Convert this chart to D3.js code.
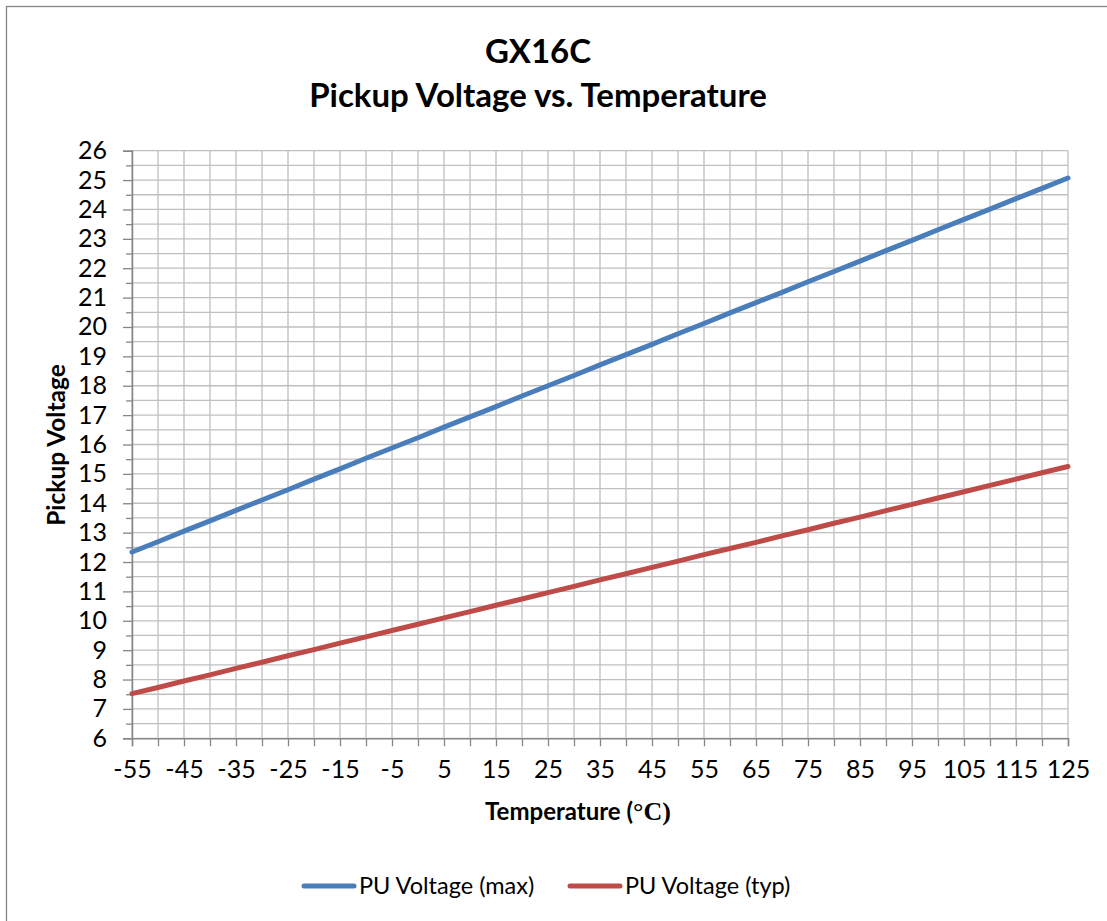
<!DOCTYPE html>
<html>
<head>
<meta charset="utf-8">
<script src="https://cdn.jsdelivr.net/npm/d3@7"></script>
<style>
  body { margin: 0; background: #fff; }
  svg { display: block; }
</style>
</head>
<body>
<div id="chart"></div>
<script>
// Chart size
const width = 1107;
const height = 921;

// Temperature categories (deg C)
const temps = [-55, -50, -45, -40, -35, -30, -25, -20, -15, -10, -5, 0, 5, 10, 15, 20, 25, 30,
  35, 40, 45, 50, 55, 60, 65, 70, 75, 80, 85, 90, 95, 100, 105, 110, 115, 120, 125];

// PU Voltage (max)
const puMax = [12.34, 12.69, 13.05, 13.40, 13.76, 14.11, 14.46, 14.82, 15.17, 15.53, 15.88, 16.23,
  16.59, 16.94, 17.29, 17.65, 18.00, 18.35, 18.71, 19.06, 19.41, 19.77, 20.12, 20.48, 20.83,
  21.18, 21.54, 21.89, 22.24, 22.60, 22.95, 23.31, 23.66, 24.01, 24.37, 24.72, 25.07];

// PU Voltage (typ)
const puTyp = [7.52, 7.73, 7.95, 8.16, 8.38, 8.59, 8.81, 9.02, 9.24, 9.45, 9.67, 9.88, 10.10,
  10.31, 10.53, 10.74, 10.96, 11.17, 11.39, 11.60, 11.82, 12.03, 12.25, 12.46, 12.67, 12.89,
  13.10, 13.32, 13.53, 13.75, 13.96, 14.18, 14.39, 14.61, 14.82, 15.04, 15.25];

// Axis tick labels
const xLabels = [-55, -45, -35, -25, -15, -5, 5, 15, 25, 35, 45, 55, 65, 75, 85, 95, 105, 115, 125];
const yLabels = [6, 7, 8, 9, 10, 11, 12, 13, 14, 15, 16, 17, 18, 19, 20, 21, 22, 23, 24, 25, 26];
const yHalves = [6.5, 7.5, 8.5, 9.5, 10.5, 11.5, 12.5, 13.5, 14.5, 15.5, 16.5, 17.5, 18.5, 19.5,
  20.5, 21.5, 22.5, 23.5, 24.5, 25.5];

const series = [
  { name: "PU Voltage (max)", values: puMax, color: "#4a7ebb" },
  { name: "PU Voltage (typ)", values: puTyp, color: "#be4b48" }
];

const font = "Lato, 'Open Sans', sans-serif";

// Plot area
const plot = { left: 132, right: 1068, top: 150.7, bottom: 738.3 };

const svg = d3.select("#chart")
  .append("svg")
  .attr("width", width)
  .attr("height", height);

// Outer frame (only left and top edges are visible)
svg.append("rect")
  .attr("x", 6.5)
  .attr("y", 6.5)
  .attr("width", width + 20)
  .attr("height", height + 20)
  .style("fill", "#fff")
  .style("stroke", "#868686")
  .style("stroke-width", 1.3);

const x = d3.scaleLinear().domain([-55, 125]).range([plot.left, plot.right]);
const y = d3.scaleLinear().domain([6, 26]).range([plot.bottom, plot.top]);

// Gridlines
const grid = svg.append("g");
grid.selectAll("line.h")
  .data(yLabels.concat(yHalves))
  .enter()
  .append("line")
  .attr("x1", plot.left)
  .attr("x2", plot.right)
  .attr("y1", d => y(d))
  .attr("y2", d => y(d))
  .style("stroke", "#bfbfbf")
  .style("stroke-width", 1.3);

grid.selectAll("line.v")
  .data(temps)
  .enter()
  .append("line")
  .attr("x1", d => x(d))
  .attr("x2", d => x(d))
  .attr("y1", plot.top)
  .attr("y2", plot.bottom)
  .style("stroke", "#bfbfbf")
  .style("stroke-width", 1.3);

// Y axis: major ticks with labels, then minor ticks
const yAxis = svg.append("g")
  .attr("transform", `translate(${plot.left},0)`)
  .call(d3.axisLeft(y).tickValues(yLabels).tickSize(9).tickPadding(16).tickFormat(d3.format("d")));
svg.append("g")
  .attr("transform", `translate(${plot.left},0)`)
  .call(d3.axisLeft(y).tickValues(yHalves).tickSize(6).tickFormat(""))
  .call(g => g.select(".domain").remove())
  .selectAll("line").style("stroke", "#868686").style("stroke-width", 1.3);

// X axis: tick at every category, label every other one
const xAxis = svg.append("g")
  .attr("transform", `translate(0,${plot.bottom})`)
  .call(d3.axisBottom(x).tickValues(temps).tickSize(8).tickPadding(14)
    .tickFormat(d => xLabels.includes(d) ? d : ""));

[yAxis, xAxis].forEach(g => {
  g.select(".domain").style("stroke", "#868686").style("stroke-width", 1.5);
  g.selectAll(".tick line").style("stroke", "#868686").style("stroke-width", 1.3);
  g.selectAll("text")
    .style("font-family", font)
    .style("font-size", "25px")
    .style("fill", "#000");
});

// Series lines
const line = d3.line()
  .x((d, i) => x(temps[i]))
  .y(d => y(d));

svg.selectAll("path.series")
  .data(series)
  .enter()
  .append("path")
  .attr("class", "series")
  .attr("d", d => line(d.values))
  .style("fill", "none")
  .style("stroke", d => d.color)
  .style("stroke-width", 5)
  .style("stroke-linecap", "round")
  .style("stroke-linejoin", "round");

// Title
const title = svg.append("text")
  .attr("text-anchor", "middle")
  .style("font-family", font)
  .style("font-weight", "bold")
  .style("font-size", "33px")
  .style("fill", "#000");
title.append("tspan").attr("x", 538).attr("y", 63).text("GX16C");
title.append("tspan").attr("x", 538).attr("y", 107).text("Pickup Voltage vs. Temperature");

// Axis titles
svg.append("text")
  .attr("transform", "translate(65,445) rotate(-90)")
  .attr("text-anchor", "middle")
  .style("font-family", font)
  .style("font-weight", "bold")
  .style("font-size", "24.5px")
  .text("Pickup Voltage");

const xTitle = svg.append("text")
  .attr("x", 578)
  .attr("y", 820)
  .attr("text-anchor", "middle")
  .style("font-family", font)
  .style("font-weight", "bold")
  .style("font-size", "24px");
xTitle.append("tspan").text("Temperature (");
xTitle.append("tspan")
  .style("font-family", "'Liberation Serif', 'DejaVu Serif', serif")
  .style("font-size", "26px")
  .text("°C)");

// Legend
const legend = svg.selectAll("g.legend")
  .data(series)
  .enter()
  .append("g")
  .attr("class", "legend")
  .attr("transform", (d, i) => `translate(${i === 0 ? 304 : 570},886)`);

legend.append("line")
  .attr("x1", 0)
  .attr("x2", 50)
  .style("stroke", d => d.color)
  .style("stroke-width", 5)
  .style("stroke-linecap", "round");

legend.append("text")
  .attr("x", 55)
  .attr("y", 8)
  .style("font-family", font)
  .style("font-size", "23.5px")
  .text(d => d.name);
</script>
</body>
</html>
